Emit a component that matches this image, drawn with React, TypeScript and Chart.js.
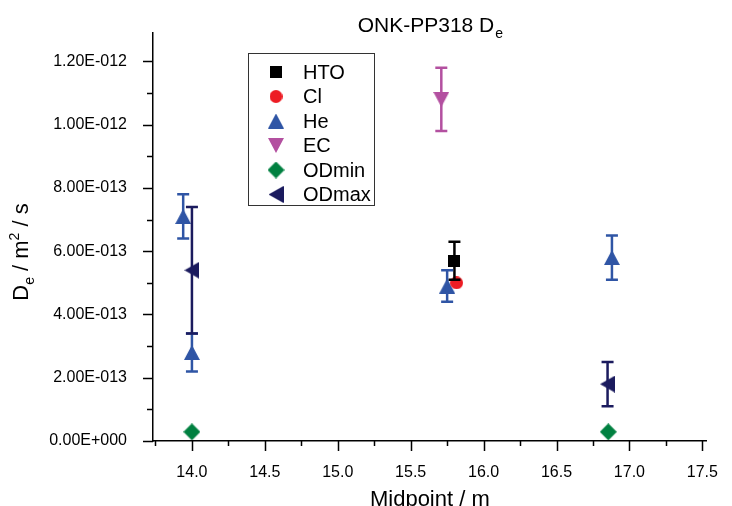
import React, { useEffect, useRef } from 'react';
import { Chart, registerables } from 'chart.js';
Chart.register(...registerables);

const FONT = '"Liberation Sans", Arial, sans-serif';

// ---- data ----
const seriesLabels = ['HTO', 'Cl', 'He', 'EC', 'ODmin', 'ODmax'];
const seriesColors = ['#000000', '#ED1C24', '#2F55A5', '#B350A0', '#008040', '#1B1B5E'];
const seriesShapes = ['square', 'circle', 'up', 'down', 'diamond', 'left'];

const htoX = [15.80];
const htoY = [5.7e-13];
const htoErr = [0.6e-13];

const clX = [15.815];
const clY = [5.0e-13];
const clErr = [0];

const heX = [13.94, 14.0, 15.75, 16.88];
const heY = [7.1e-13, 2.8e-13, 4.9e-13, 5.8e-13];
const heErr = [0.7e-13, 0.6e-13, 0.5e-13, 0.7e-13];

const ecX = [15.71];
const ecY = [1.08e-12];
const ecErr = [1.0e-13];

const odminX = [14.0, 16.855];
const odminY = [0.29e-13, 0.29e-13];
const odminErr = [0, 0];

const odmaxX = [14.0, 16.85];
const odmaxY = [5.4e-13, 1.8e-13];
const odmaxErr = [2.0e-13, 0.7e-13];

const seriesX = [htoX, clX, heX, ecX, odminX, odmaxX];
const seriesY = [htoY, clY, heY, ecY, odminY, odmaxY];
const seriesErr = [htoErr, clErr, heErr, ecErr, odminErr, odmaxErr];

const xMin = 13.733;
const xMax = 17.53;
const xStep = 0.25;
const xMajor = 0.5;
const yMin = 0;
const yMax = 1.29e-12;
const yStep = 1e-13;
const yMajor = 2e-13;

const titleMain = 'ONK-PP318 D';
const titleSub = 'e';
const xTitle = 'Midpoint / m';

function isMultiple(v: number, m: number) {
  const r = v / m;
  return Math.abs(r - Math.round(r)) < 1e-6;
}

function fmtSci(v: number) {
  if (Math.abs(v) < 1e-30) return '0.00E+000';
  const [mant, exp] = v.toExponential(2).split('e');
  const e = parseInt(exp, 10);
  const sign = e < 0 ? '-' : '+';
  return mant + 'E' + sign + String(Math.abs(e)).padStart(3, '0');
}

function makeMarker(shape: string, color: string): HTMLCanvasElement {
  const dims: Record<string, [number, number]> = {
    square: [12, 12],
    circle: [13, 13],
    up: [16, 15],
    down: [16, 15],
    diamond: [17, 17],
    left: [15, 17],
  };
  const [w, h] = dims[shape];
  const c = document.createElement('canvas');
  c.width = w;
  c.height = h;
  const ctx = c.getContext('2d')!;
  ctx.fillStyle = color;
  ctx.beginPath();
  switch (shape) {
    case 'square':
      ctx.rect(0, 0, w, h);
      break;
    case 'circle':
      ctx.arc(w / 2, h / 2, w / 2, 0, Math.PI * 2);
      break;
    case 'up':
      ctx.moveTo(w / 2, 0);
      ctx.lineTo(w, h);
      ctx.lineTo(0, h);
      break;
    case 'down':
      ctx.moveTo(0, 0);
      ctx.lineTo(w, 0);
      ctx.lineTo(w / 2, h);
      break;
    case 'diamond':
      ctx.moveTo(w / 2, 0);
      ctx.lineTo(w, h / 2);
      ctx.lineTo(w / 2, h);
      ctx.lineTo(0, h / 2);
      break;
    case 'left':
      ctx.moveTo(0, h / 2);
      ctx.lineTo(w, 0);
      ctx.lineTo(w, h);
      break;
  }
  ctx.closePath();
  ctx.fill();
  return c;
}

const errorBarPlugin = {
  id: 'errorBars',
  afterDatasetsDraw(chart: any) {
    const ctx = chart.ctx;
    const xs = chart.scales.x;
    const ys = chart.scales.y;
    chart.data.datasets.forEach((ds: any) => {
      ds.data.forEach((p: any, i: number) => {
        const e = ds.errors[i];
        if (!e) return;
        const px = xs.getPixelForValue(p.x);
        const top = ys.getPixelForValue(p.y + e);
        const bot = ys.getPixelForValue(p.y - e);
        ctx.save();
        ctx.strokeStyle = ds.errColor;
        ctx.lineWidth = 2.5;
        ctx.beginPath();
        ctx.moveTo(px, top);
        ctx.lineTo(px, bot);
        ctx.moveTo(px - 6, top);
        ctx.lineTo(px + 6, top);
        ctx.moveTo(px - 6, bot);
        ctx.lineTo(px + 6, bot);
        ctx.stroke();
        ctx.restore();
      });
    });
  },
};

const decorPlugin = {
  id: 'decor',
  afterDraw(chart: any) {
    const ctx = chart.ctx;
    const xs = chart.scales.x;
    const ys = chart.scales.y;
    const area = chart.chartArea;
    ctx.save();
    ctx.strokeStyle = '#000';
    ctx.lineWidth = 1.5;
    ctx.beginPath();
    xs.ticks.forEach((t: any) => {
      const px = Math.round(xs.getPixelForValue(t.value)) + 0.5;
      const len = isMultiple(t.value, xMajor) ? 10 : 5;
      ctx.moveTo(px, area.bottom);
      ctx.lineTo(px, area.bottom + len);
    });
    ys.ticks.forEach((t: any) => {
      const py = Math.round(ys.getPixelForValue(t.value)) + 0.5;
      const len = isMultiple(t.value, yMajor) ? 10 : 6;
      ctx.moveTo(area.left, py);
      ctx.lineTo(area.left - len, py);
    });
    ctx.stroke();

    ctx.fillStyle = '#000';
    // title
    ctx.font = '21px ' + FONT;
    const wMain = ctx.measureText(titleMain).width;
    ctx.font = '14px ' + FONT;
    const wSub = ctx.measureText(titleSub).width;
    const cx = (area.left + area.right) / 2;
    const tx = cx - (wMain + wSub) / 2;
    ctx.textBaseline = 'alphabetic';
    ctx.textAlign = 'left';
    ctx.font = '21px ' + FONT;
    ctx.fillText(titleMain, tx, 32);
    ctx.font = '14px ' + FONT;
    ctx.fillText(titleSub, tx + wMain + 1, 38);

    // x title
    ctx.font = '22px ' + FONT;
    ctx.textAlign = 'center';
    ctx.fillText(xTitle, cx, 506);

    // y title (rotated)
    const parts: [string, string][] = [
      ['D', 'n'],
      ['e', 'sub'],
      [' / m', 'n'],
      ['2', 'sup'],
      [' / s', 'n'],
    ];
    const fontFor = (k: string) => (k === 'n' ? '22px ' : '14px ') + FONT;
    let total = 0;
    parts.forEach(([s, k]) => {
      ctx.font = fontFor(k);
      total += ctx.measureText(s).width;
    });
    ctx.save();
    ctx.translate(28, 252);
    ctx.rotate(-Math.PI / 2);
    ctx.textAlign = 'left';
    let ox = -total / 2;
    parts.forEach(([s, k]) => {
      ctx.font = fontFor(k);
      const dy = k === 'sub' ? 6 : k === 'sup' ? -9 : 0;
      ctx.fillText(s, ox, dy);
      ox += ctx.measureText(s).width;
    });
    ctx.restore();

    // legend
    ctx.strokeStyle = '#333';
    ctx.lineWidth = 1;
    ctx.strokeRect(248.5, 53.5, 126, 152);
    ctx.font = '20px ' + FONT;
    ctx.textAlign = 'left';
    ctx.textBaseline = 'middle';
    chart.data.datasets.forEach((ds: any, i: number) => {
      const y = 72 + i * 24.5;
      const img = ds.pointStyle as HTMLCanvasElement;
      ctx.drawImage(img, 276 - img.width / 2, y - img.height / 2);
      ctx.fillStyle = '#000';
      ctx.fillText(ds.label, 303, y + 1);
    });
    ctx.restore();
  },
};

export default function App() {
  const ref = useRef<HTMLCanvasElement>(null);
  useEffect(() => {
    if (!ref.current) return;
    const datasets = seriesLabels.map((label, i) => ({
      label,
      data: seriesX[i].map((x, j) => ({ x, y: seriesY[i][j] })),
      errors: seriesErr[i],
      errColor: seriesColors[i],
      pointStyle: makeMarker(seriesShapes[i], seriesColors[i]),
      backgroundColor: seriesColors[i],
      borderColor: seriesColors[i],
      showLine: false,
    }));
    const chart = new Chart(ref.current, {
      type: 'scatter',
      data: { datasets } as any,
      options: {
        animation: false,
        responsive: false,
        events: [],
        layout: { padding: { top: 33, right: 10, left: 0, bottom: 0 } },
        plugins: { legend: { display: false }, title: { display: false }, tooltip: { enabled: false } },
        scales: {
          x: {
            type: 'linear',
            min: xMin,
            max: xMax,
            grid: { display: false },
            border: { display: true, color: '#000', width: 1.5 },
            ticks: {
              stepSize: xStep,
              includeBounds: false,
              autoSkip: false,
              maxRotation: 0,
              padding: 14,
              color: '#000',
              font: { family: FONT, size: 16 },
              callback: (v: any) => (isMultiple(Number(v), xMajor) ? Number(v).toFixed(1) : ''),
            },
            afterFit: (s: any) => {
              s.height = 65;
            },
          },
          y: {
            type: 'linear',
            min: yMin,
            max: yMax,
            grid: { display: false },
            border: { display: true, color: '#000', width: 1.5 },
            ticks: {
              stepSize: yStep,
              includeBounds: false,
              autoSkip: false,
              padding: 18,
              color: '#000',
              font: { family: FONT, size: 16 },
              callback: (v: any) => (isMultiple(Number(v), yMajor) ? fmtSci(Number(v)) : ''),
            },
            afterFit: (s: any) => {
              s.width = 153;
            },
          },
        },
      } as any,
      plugins: [errorBarPlugin, decorPlugin],
    });
    return () => chart.destroy();
  }, []);
  return (
    <div style={{ position: 'absolute', left: 0, top: 0, width: 732, height: 506, background: '#fff' }}>
      <canvas ref={ref} width={732} height={506} style={{ display: 'block' }} />
    </div>
  );
}
